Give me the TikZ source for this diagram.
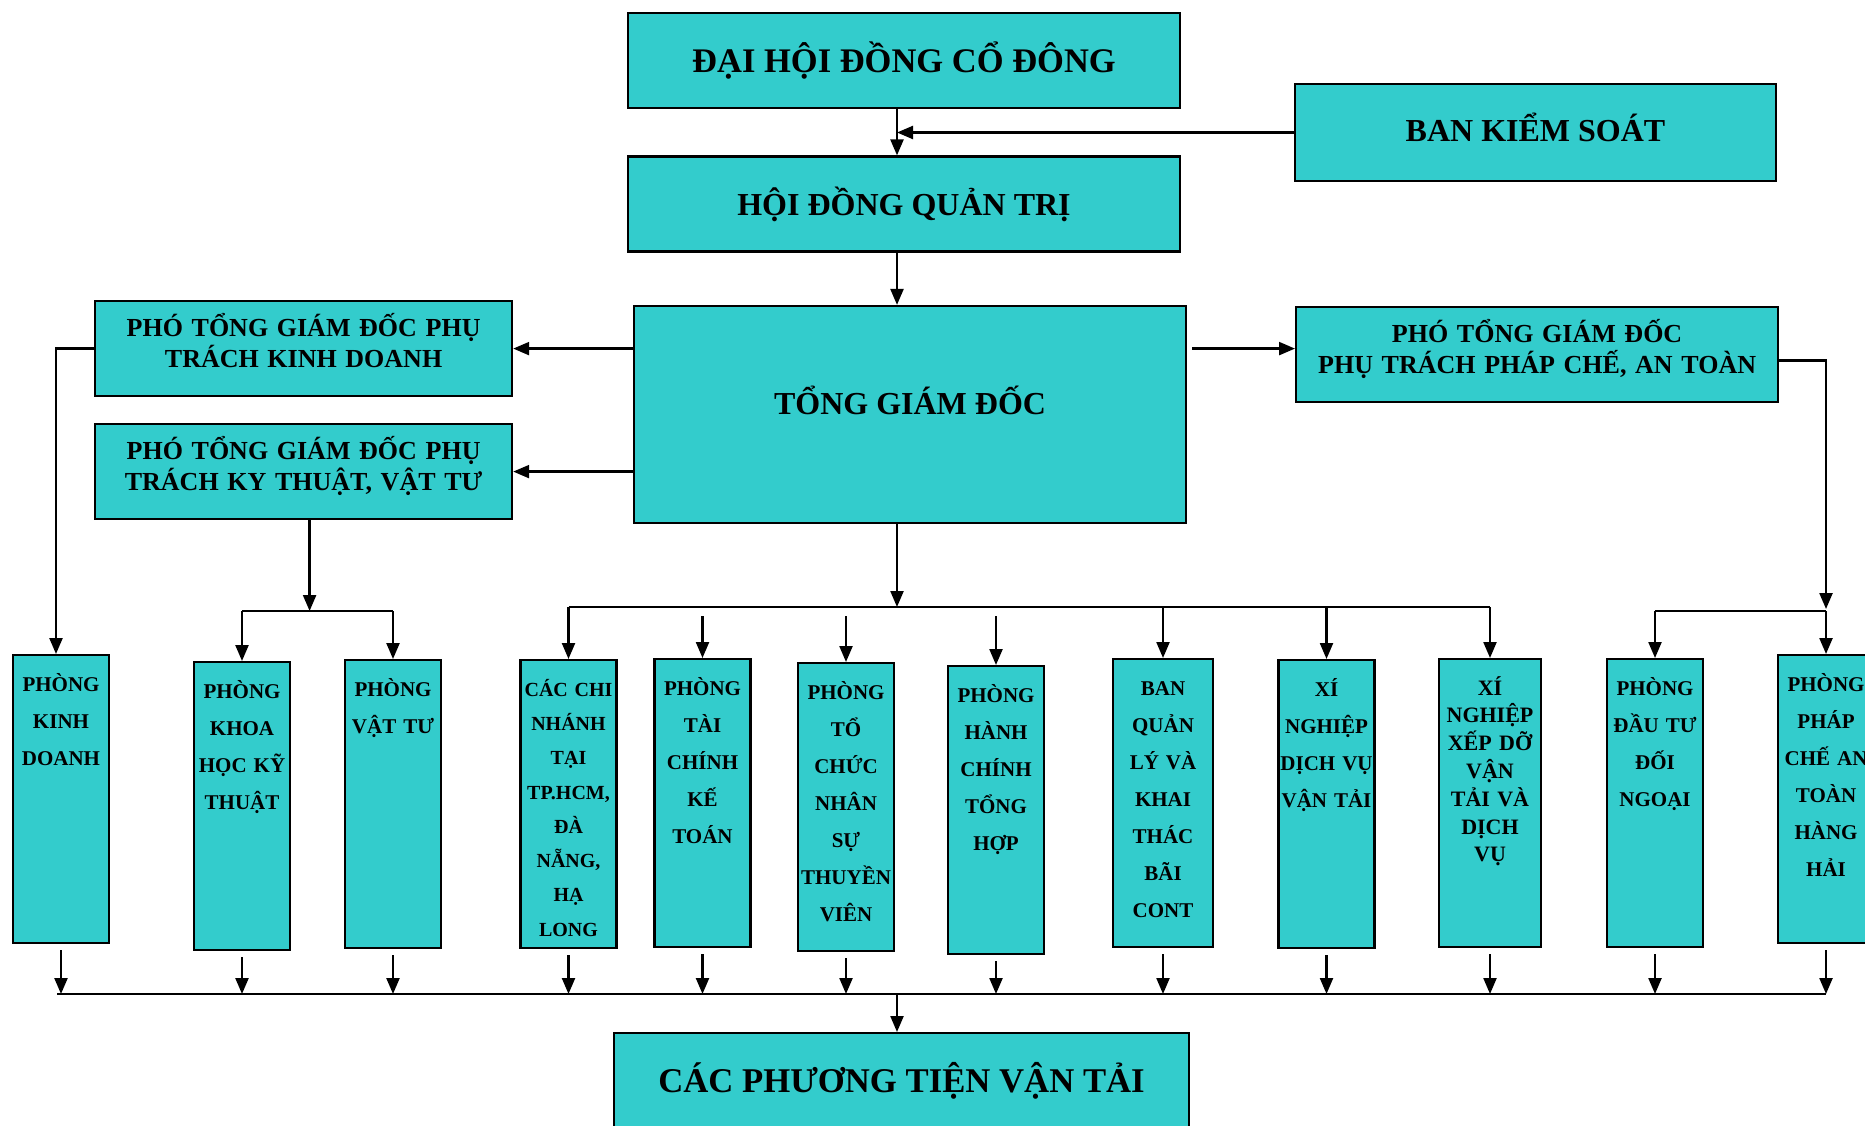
\documentclass[tikz,border=0pt]{standalone}
\usepackage{fontspec}
\setmainfont{Liberation Serif}
\usepackage{xcolor}
\usetikzlibrary{arrows.meta,calc}
\definecolor{boxfill}{RGB}{51,204,204}
\tikzset{
	conn/.style={line width=2.3pt},
	arr/.style={conn,-{Triangle[length=16pt,width=13pt]}},
	bigbox/.style={draw,fill=boxfill,line width=2.2pt,minimum width=552pt,minimum height=95pt,font=\fontsize{32}{38}\selectfont\bfseries},
	vicebox/.style={draw,fill=boxfill,line width=2.2pt,inner sep=0pt,anchor=north west,align=center,text width=417pt,text height=35pt,text depth=60pt,font=\fontsize{26}{31}\selectfont\bfseries},
	dept/.style={draw,fill=boxfill,line width=2.2pt,inner sep=0pt,anchor=north,align=center,text width=96pt,text height=36pt,text depth=252pt,font=\fontsize{21}{37}\selectfont\bfseries}
}
\begin{document}
\begin{tikzpicture}[x=1pt,y=-1pt]
	\useasboundingbox (0,0) rectangle (1865,1126);
	\coordinate (spine) at (897,0);
	
	% top of the chart
	\node[bigbox,font=\fontsize{34.5}{40}\selectfont\bfseries] (dhdcd) at (904,60.5) {ĐẠI HỘI ĐỒNG CỔ ĐÔNG};
	\node[bigbox,minimum width=481pt,minimum height=97pt,text height=24pt,text depth=6pt] (bks) at (1535.5,132.5) {BAN KIỂM SOÁT};
	\node[bigbox] (hdqt) at (904,204) {HỘI ĐỒNG QUẢN TRỊ};
	\node[bigbox,minimum height=217pt,text height=10pt,text depth=10pt] (tgd) at (910,414.5) {TỔNG GIÁM ĐỐC};
	
	% deputies
	\node[vicebox] (kd) at (94,300) {PHÓ TỔNG GIÁM ĐỐC PHỤ\\TRÁCH KINH DOANH};
	\node[vicebox] (kt) at (94,423) {PHÓ TỔNG GIÁM ĐỐC PHỤ\\TRÁCH KY THUẬT, VẬT TƯ};
	\node[vicebox,text width=482pt] (pc) at (1295,306) {PHÓ TỔNG GIÁM ĐỐC\\PHỤ TRÁCH PHÁP CHẾ, AN TOÀN};
	
	% departments
	\node[dept] (pkd) at (61,654) {PHÒNG\\KINH\\DOANH};
	\node[dept] (pkhkt) at (242,661) {PHÒNG\\KHOA\\HỌC KỸ\\THUẬT};
	\node[dept] (pvt) at (393,659) {PHÒNG\\VẬT TƯ};
	\node[dept,font=\fontsize{20}{34.3}\selectfont\bfseries] (ccn) at (568.5,659) {CÁC CHI\\NHÁNH\\TẠI\\TP.HCM,\\ĐÀ\\NẴNG,\\HẠ\\LONG};
	\node[dept] (ptckt) at (702.5,658) {PHÒNG\\TÀI\\CHÍNH\\KẾ\\TOÁN};
	\node[dept] (ptcns) at (846,662) {PHÒNG\\TỔ\\CHỨC\\NHÂN\\SỰ\\THUYỀN\\VIÊN};
	\node[dept] (phcth) at (996,665) {PHÒNG\\HÀNH\\CHÍNH\\TỔNG\\HỢP};
	\node[dept,text width=100pt] (bql) at (1163,658) {BAN\\QUẢN\\LÝ VÀ\\KHAI\\THÁC\\BÃI\\CONT};
	\node[dept] (xndv) at (1326.5,659) {XÍ\\NGHIỆP\\DỊCH VỤ\\VẬN TẢI};
	\node[dept,text width=102pt,font=\fontsize{22}{27.8}\selectfont\bfseries] (xnxd) at (1490,658) {XÍ\\NGHIỆP\\XẾP DỠ\\VẬN\\TẢI VÀ\\DỊCH\\VỤ};
	\node[dept] (pdt) at (1655,658) {PHÒNG\\ĐẦU TƯ\\ĐỐI\\NGOẠI};
	\node[dept] (ppc) at (1826,654) {PHÒNG\\PHÁP\\CHẾ AN\\TOÀN\\HÀNG\\HẢI};
	
	\node[bigbox,font=\fontsize{34.7}{40}\selectfont\bfseries,minimum width=575pt,minimum height=0pt,inner sep=0pt,anchor=north,text height=59pt,text depth=70pt] (ptvt) at (901.5,1032) {CÁC PHƯƠNG TIỆN VẬN TẢI};
	
	% spine
	\draw[arr] (dhdcd.south -| spine) -- (hdqt.north -| spine);
	\draw[arr] (bks.west) -- (bks.west -| spine);
	\draw[arr] (hdqt.south -| spine) -- (tgd.north -| spine);
	
	% to the deputies
	\draw[arr] (tgd.west |- kd.east) -- (kd.east);
	\draw[arr] (tgd.west |- kt.east) -- (kt.east);
	\draw[arr] ([xshift=5pt]tgd.east |- kd.east) -- (pc.west |- kd.east);
	
	% business line
	\draw[arr] (kd.west) -| ([xshift=-5pt]pkd.north);
	
	% technical line
	\coordinate (ktbus) at (0,611);
	\draw[arr] ([xshift=6pt]kt.south) -- ([xshift=6pt]kt.south |- ktbus);
	\draw[conn] (pkhkt.north |- ktbus) -- (pvt.north |- ktbus);
	\foreach \n in {pkhkt,pvt}{
		\draw[arr] (\n.north |- ktbus) -- (\n.north);
	}
	
	% general director line
	\coordinate (midbus) at (0,607);
	\draw[arr] (tgd.south -| spine) -- (spine |- midbus);
	\draw[conn] (ccn.north |- midbus) -- (xnxd.north |- midbus);
	\foreach \n in {ccn,bql,xndv,xnxd}{
		\draw[arr] (\n.north |- midbus) -- (\n.north);
	}
	\foreach \n in {ptckt,ptcns,phcth}{
		\draw[arr] ($(\n.north |- midbus)+(0,9)$) -- (\n.north);
	}
	
	% legal line
	\coordinate (pcbus) at (0,611);
	\draw[arr] ([yshift=-6pt]pc.east) -| ($(ppc.north |- pcbus)+(0,-2)$);
	\draw[conn] (pdt.north |- pcbus) -- (ppc.north |- pcbus);
	\foreach \n in {pdt,ppc}{
		\draw[arr] (\n.north |- pcbus) -- (\n.north);
	}
	
	% bottom collector
	\coordinate (lowbus) at (0,994);
	\draw[conn] ([xshift=-4pt]pkd.south |- lowbus) -- (ppc.south |- lowbus);
	\foreach \n in {pkd,pkhkt,pvt,ccn,ptckt,ptcns,phcth,bql,xndv,xnxd,pdt,ppc}{
		\draw[arr] ($(\n.south)+(0,6)$) -- (\n.south |- lowbus);
	}
	\draw[arr] (spine |- lowbus) -- (spine |- ptvt.north);
\end{tikzpicture}
\end{document}
